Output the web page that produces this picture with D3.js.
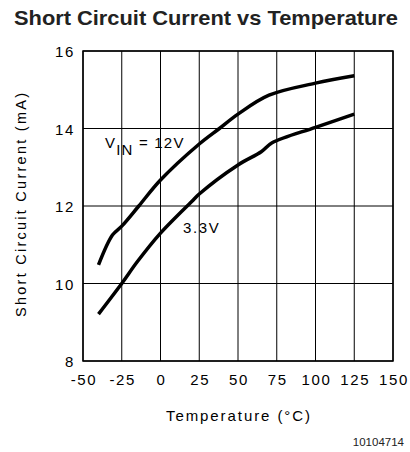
<!DOCTYPE html>
<html><head><meta charset="utf-8">
<script src="https://cdn.jsdelivr.net/npm/d3@7"></script>
<style>body{margin:0;background:#fff}</style>
</head><body>
<script>
const xTicks = [-50,-25,0,25,50,75,100,125,150];
const yTicks = [8,10,12,14,16];
const temp12 = [-40,-31,-25,-14,0,25,38,50,70,100,125];
const cur12  = [10.48,11.25,11.48,12.0,12.67,13.6,14.0,14.37,14.86,15.17,15.36];
const temp33 = [-40,-25,-15,0,21,25,50,65,72,100,125];
const cur33  = [9.21,10.0,10.56,11.3,12.15,12.31,13.06,13.4,13.63,14.03,14.37];

const W=410,H=452, L=83,R=393,T=51,B=361;
const svg=d3.select("body").append("svg").attr("width",W).attr("height",H);
const x=d3.scaleLinear().domain([-50,150]).range([L,R]);
const y=d3.scaleLinear().domain([8,16]).range([B,T]);
const tf="Liberation Sans, Arial";

svg.append("text").attr("x",14).attr("y",25)
  .attr("font-family",tf).attr("font-weight","bold").attr("font-size",21)
  .attr("textLength",384).attr("lengthAdjust","spacingAndGlyphs")
  .attr("fill","#222").text("Short Circuit Current vs Temperature");

const g=svg.append("g");
g.selectAll(".vx").data(xTicks).join("line").attr("x1",d=>x(d)).attr("x2",d=>x(d))
  .attr("y1",T).attr("y2",B).attr("stroke","#000").attr("stroke-width",1);
g.selectAll(".hy").data(yTicks).join("line").attr("y1",d=>y(d)).attr("y2",d=>y(d))
  .attr("x1",L).attr("x2",R).attr("stroke","#000").attr("stroke-width",1);
g.append("rect").attr("x",L).attr("y",T).attr("width",R-L).attr("height",B-T)
  .attr("fill","none").attr("stroke","#000").attr("stroke-width",1.5);

svg.selectAll(".xt").data(xTicks).join("text").attr("x",d=>x(d)+1).attr("y",385)
  .attr("text-anchor","middle").attr("font-family",tf).attr("font-size",15)
  .attr("letter-spacing",1.6).text(d=>d);
svg.selectAll(".yt").data(yTicks).join("text").attr("x",75).attr("y",d=>y(d)+6)
  .attr("text-anchor","end").attr("font-family",tf).attr("font-size",15)
  .attr("letter-spacing",1.6).text(d=>d);

svg.append("text").attr("x",166).attr("y",421)
  .attr("font-family",tf).attr("font-size",15)
  .attr("textLength",144).attr("lengthAdjust","spacing").text("Temperature (°C)");
svg.append("text").attr("transform","translate(26,317) rotate(-90)")
  .attr("font-family",tf).attr("font-size",14.5)
  .attr("textLength",224).attr("lengthAdjust","spacing").text("Short Circuit Current (mA)");
svg.append("text").attr("x",404).attr("y",446).attr("text-anchor","end")
  .attr("font-family",tf).attr("font-size",11.5).attr("fill","#222").text("10104714");

const line=d3.line().x(d=>x(d[0])).y(d=>y(d[1])).curve(d3.curveCatmullRom.alpha(0.5));
[[temp12,cur12],[temp33,cur33]].forEach(([t,c])=>{
  svg.append("path").attr("d",line(t.map((v,i)=>[v,c[i]]))).attr("fill","none")
    .attr("stroke","#000").attr("stroke-width",3.5).attr("stroke-linejoin","round");
});

const lab=svg.append("text").attr("x",105).attr("y",148).attr("font-family",tf).attr("font-size",15).attr("letter-spacing",1.2);
lab.append("tspan").text("V");
lab.append("tspan").attr("dy",7).text("IN");
lab.append("tspan").attr("dy",-7).text(" = 12V");
svg.append("text").attr("x",183).attr("y",233).attr("font-family",tf).attr("font-size",15)
  .attr("letter-spacing",1.6).text("3.3V");
</script>
</body></html>
